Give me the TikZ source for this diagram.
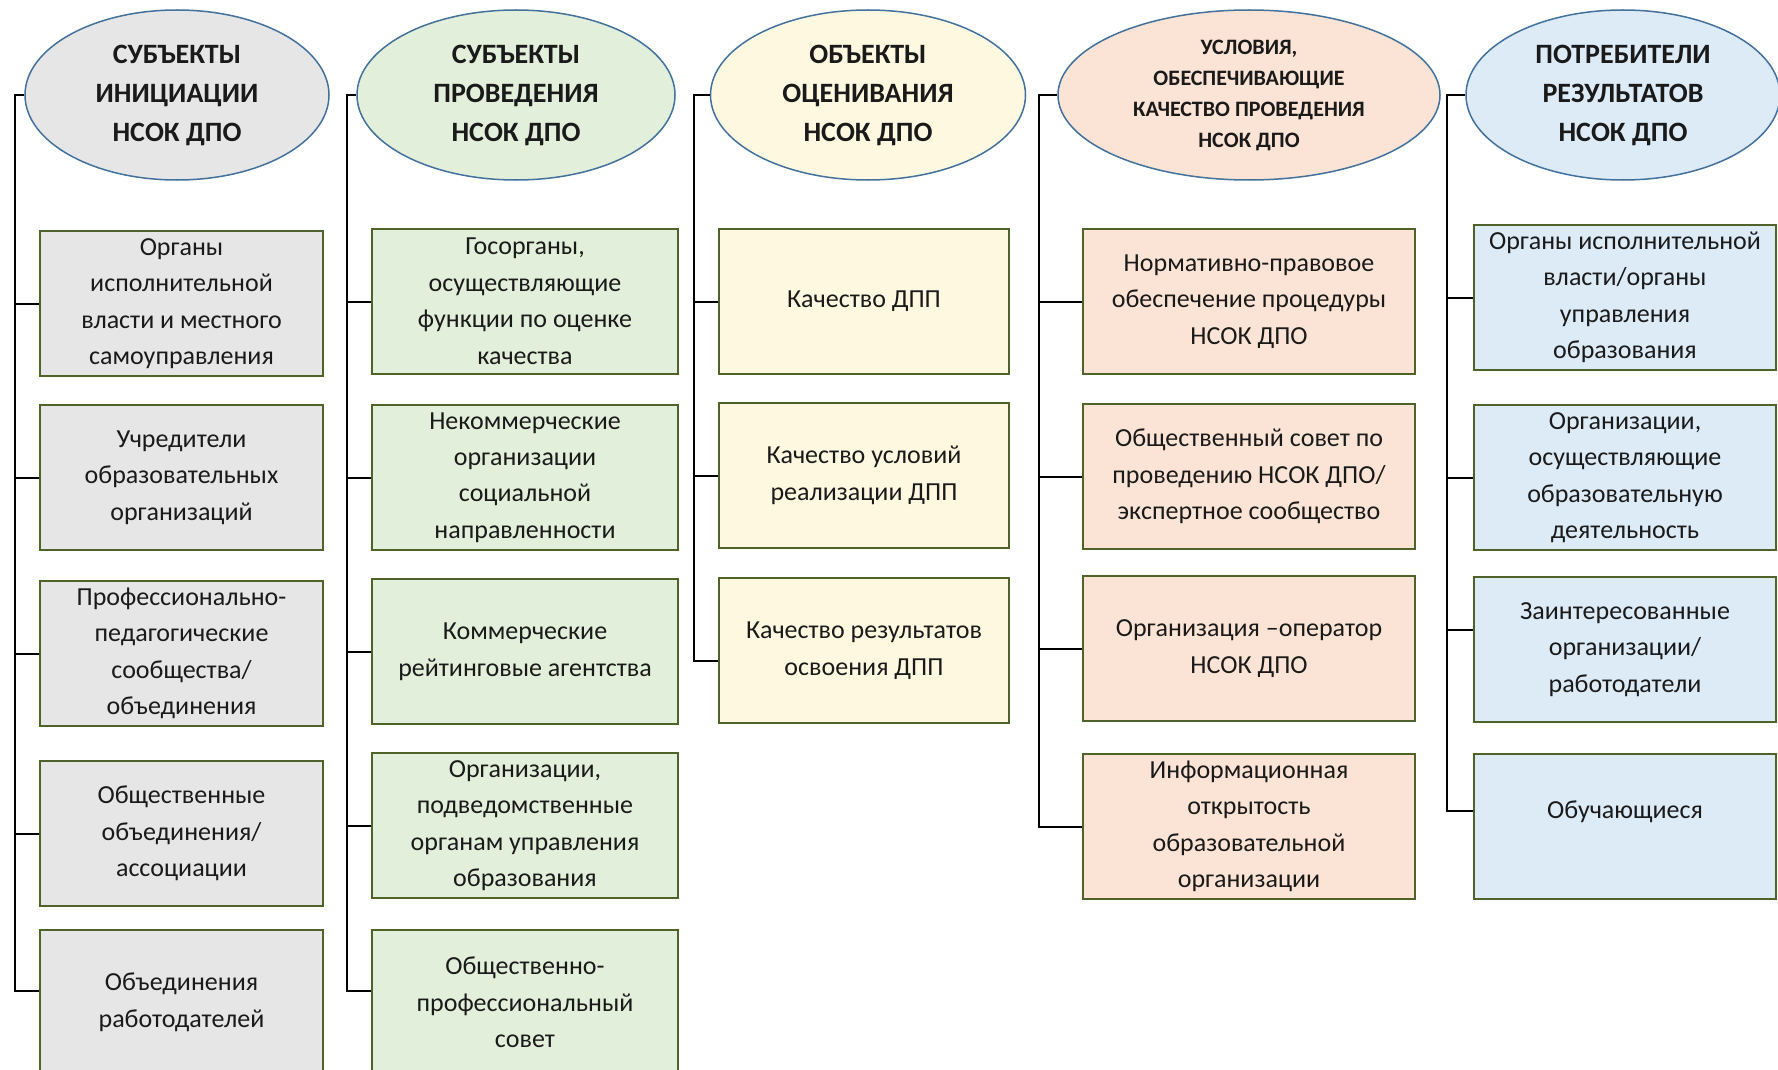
\documentclass[tikz,border=0pt]{standalone}
\usepackage{fontspec}
\setmainfont{Carlito}
\usetikzlibrary{positioning,shapes.geometric}

\definecolor{grayfill}{HTML}{E7E6E6}
\definecolor{greenfill}{HTML}{E2EFDA}
\definecolor{creamfill}{HTML}{FFF8E1}
\definecolor{peachfill}{HTML}{FBE4D5}
\definecolor{bluefill}{HTML}{DDEBF7}
\definecolor{boxedge}{HTML}{4F6228}
\definecolor{ovaledge}{HTML}{41719C}
\definecolor{txt}{HTML}{1A1A1A}

\begin{document}
\begin{tikzpicture}[
			x=1pt, y=-1pt,
			head/.style={
				ellipse,
				draw=ovaledge,
				line width=1.5pt,
				inner sep=0pt,
				minimum height=170pt,
				align=center,
				text=txt,
				font=\fontsize{28}{39}\selectfont\bfseries
			},
			item/.style={
				rectangle,
				draw=boxedge,
				line width=2pt,
				inner sep=0pt,
				minimum height=145pt,
				align=center,
				text=txt,
				font=\fontsize{26}{36.5}\selectfont
			},
			conn/.style={draw=black, line width=2pt}
			]
			
			\useasboundingbox (0,0) rectangle (1778,1070);
			
			%%%%%%%%%%%%%%%%%%%%%%%%%%%%%%%%%%%%%%%%%%%%%%%%%%%%%%%%%%%%
			% Heads
			%%%%%%%%%%%%%%%%%%%%%%%%%%%%%%%%%%%%%%%%%%%%%%%%%%%%%%%%%%%%
			
			\node (sinit) [head, fill=grayfill, minimum width=304pt] at (177,95)
			{СУБЪЕКТЫ\\ИНИЦИАЦИИ\\НСОК ДПО};
			
			\node (sprov) [head, fill=greenfill, minimum width=318pt] at (516,95)
			{СУБЪЕКТЫ\\ПРОВЕДЕНИЯ\\НСОК ДПО};
			
			\node (obj) [head, fill=creamfill, minimum width=315pt] at (868,95)
			{ОБЪЕКТЫ\\ОЦЕНИВАНИЯ\\НСОК ДПО};
			
			\node (usl) [head, fill=peachfill, minimum width=382pt,
			font=\fontsize{22}{31}\selectfont\bfseries] at (1249,95)
			{УСЛОВИЯ,\\ОБЕСПЕЧИВАЮЩИЕ\\КАЧЕСТВО ПРОВЕДЕНИЯ\\НСОК ДПО};
			
			\node (potr) [head, fill=bluefill, minimum width=314pt] at (1623,95)
			{ПОТРЕБИТЕЛИ\\РЕЗУЛЬТАТОВ\\НСОК ДПО};
			
			%%%%%%%%%%%%%%%%%%%%%%%%%%%%%%%%%%%%%%%%%%%%%%%%%%%%%%%%%%%%
			% Subjects of initiation
			%%%%%%%%%%%%%%%%%%%%%%%%%%%%%%%%%%%%%%%%%%%%%%%%%%%%%%%%%%%%
			
			\node (sinit1) [item, fill=grayfill, minimum width=283pt] at (181.5,303.5)
			{Органы\\исполнительной\\власти и местного\\самоуправления};
			
			\node (sinit2) [item, fill=grayfill, minimum width=283pt] at (181.5,477.5)
			{Учредители\\образовательных\\организаций};
			
			\node (sinit3) [item, fill=grayfill, minimum width=283pt] at (181.5,653.5)
			{Профессионально-\\педагогические\\сообщества/\\объединения};
			
			\node (sinit4) [item, fill=grayfill, minimum width=283pt] at (181.5,833.5)
			{Общественные\\объединения/\\ассоциации};
			
			\node (sinit5) [item, fill=grayfill, minimum width=283pt] at (181.5,1002.5)
			{Объединения\\работодателей};
			
			%%%%%%%%%%%%%%%%%%%%%%%%%%%%%%%%%%%%%%%%%%%%%%%%%%%%%%%%%%%%
			% Subjects of conduct
			%%%%%%%%%%%%%%%%%%%%%%%%%%%%%%%%%%%%%%%%%%%%%%%%%%%%%%%%%%%%
			
			\node (sprov1) [item, fill=greenfill, minimum width=306pt] at (525,301.5)
			{Госорганы,\\осуществляющие\\функции по оценке\\качества};
			
			\node (sprov2) [item, fill=greenfill, minimum width=306pt] at (525,477.5)
			{Некоммерческие\\организации\\социальной\\направленности};
			
			\node (sprov3) [item, fill=greenfill, minimum width=306pt] at (525,651.5)
			{Коммерческие\\рейтинговые агентства};
			
			\node (sprov4) [item, fill=greenfill, minimum width=306pt] at (525,825.5)
			{Организации,\\подведомственные\\органам управления\\образования};
			
			\node (sprov5) [item, fill=greenfill, minimum width=306pt] at (525,1002.5)
			{Общественно-\\профессиональный\\совет};
			
			%%%%%%%%%%%%%%%%%%%%%%%%%%%%%%%%%%%%%%%%%%%%%%%%%%%%%%%%%%%%
			% Objects
			%%%%%%%%%%%%%%%%%%%%%%%%%%%%%%%%%%%%%%%%%%%%%%%%%%%%%%%%%%%%
			
			\node (obj1) [item, fill=creamfill, minimum width=290pt] at (864,301.5)
			{Качество ДПП};
			
			\node (obj2) [item, fill=creamfill, minimum width=290pt] at (864,475.5)
			{Качество условий\\реализации ДПП};
			
			\node (obj3) [item, fill=creamfill, minimum width=290pt] at (864,650.5)
			{Качество результатов\\освоения ДПП};
			
			%%%%%%%%%%%%%%%%%%%%%%%%%%%%%%%%%%%%%%%%%%%%%%%%%%%%%%%%%%%%
			% Conditions
			%%%%%%%%%%%%%%%%%%%%%%%%%%%%%%%%%%%%%%%%%%%%%%%%%%%%%%%%%%%%
			
			\node (usl1) [item, fill=peachfill, minimum width=332pt] at (1249,301.5)
			{Нормативно-правовое\\обеспечение процедуры\\НСОК ДПО};
			
			\node (usl2) [item, fill=peachfill, minimum width=332pt] at (1249,476.5)
			{Общественный совет по\\проведению НСОК ДПО/\\экспертное сообщество};
			
			\node (usl3) [item, fill=peachfill, minimum width=332pt] at (1249,648.5)
			{Организация –оператор\\НСОК ДПО};
			
			\node (usl4) [item, fill=peachfill, minimum width=332pt] at (1249,826.5)
			{Информационная\\открытость\\образовательной\\организации};
			
			%%%%%%%%%%%%%%%%%%%%%%%%%%%%%%%%%%%%%%%%%%%%%%%%%%%%%%%%%%%%
			% Consumers
			%%%%%%%%%%%%%%%%%%%%%%%%%%%%%%%%%%%%%%%%%%%%%%%%%%%%%%%%%%%%
			
			\node (potr1) [item, fill=bluefill, minimum width=302pt] at (1625,297.5)
			{Органы исполнительной\\власти/органы\\управления\\образования};
			
			\node (potr2) [item, fill=bluefill, minimum width=302pt] at (1625,477.5)
			{Организации,\\осуществляющие\\образовательную\\деятельность};
			
			\node (potr3) [item, fill=bluefill, minimum width=302pt] at (1625,649.5)
			{Заинтересованные\\организации/\\работодатели};
			
			\node (potr4) [item, fill=bluefill, minimum width=302pt, text depth=34pt] at (1625,826.5)
			{Обучающиеся};
			
			%%%%%%%%%%%%%%%%%%%%%%%%%%%%%%%%%%%%%%%%%%%%%%%%%%%%%%%%%%%%
			% Connections
			%%%%%%%%%%%%%%%%%%%%%%%%%%%%%%%%%%%%%%%%%%%%%%%%%%%%%%%%%%%%
			
			\coordinate (sinitL) at (15,95);
			\coordinate (sprovL) at (347,95);
			\coordinate (objL) at (694,95);
			\coordinate (uslL) at (1039,95);
			\coordinate (potrL) at (1447,95);
			
			% Subjects of initiation
			
			\draw[conn] (sinit.west) -- (sinitL) |- ([yshift=12pt]sinit5.west);
			\draw[conn] (sinitL |- sinit1.west) -- (sinit1.west);
			\draw[conn] (sinitL |- sinit2.west) -- (sinit2.west);
			\draw[conn] (sinitL |- sinit3.west) -- (sinit3.west);
			\draw[conn] (sinitL |- sinit4.west) -- (sinit4.west);
			
			% Subjects of conduct
			
			\draw[conn] (sprov.west) -- (sprovL) |- ([yshift=12pt]sprov5.west);
			\draw[conn] (sprovL |- sprov1.west) -- (sprov1.west);
			\draw[conn] (sprovL |- sprov2.west) -- (sprov2.west);
			\draw[conn] (sprovL |- sprov3.west) -- (sprov3.west);
			\draw[conn] (sprovL |- sprov4.west) -- (sprov4.west);
			
			% Objects
			
			\draw[conn] (obj.west) -- (objL) |- ([yshift=-10pt]obj3.west);
			\draw[conn] (objL |- obj1.west) -- (obj1.west);
			\draw[conn] (objL |- obj2.west) -- (obj2.west);
			
			% Conditions
			
			\draw[conn] (usl.west) -- (uslL) |- (usl4.west);
			\draw[conn] (uslL |- usl1.west) -- (usl1.west);
			\draw[conn] (uslL |- usl2.west) -- (usl2.west);
			\draw[conn] (uslL |- usl3.west) -- (usl3.west);
			
			% Consumers
			
			\draw[conn] (potr.west) -- (potrL) |- ([yshift=16pt]potr4.west);
			\draw[conn] (potrL |- potr1.west) -- (potr1.west);
			\draw[conn] (potrL |- potr2.west) -- (potr2.west);
			\draw[conn] ([yshift=20pt]potrL |- potr3.west) -- ([yshift=20pt]potr3.west);
			
			%%%%%%%%%%%%%%%%%%%%%%%%%%%%%%%%%%%%%%%%%%%%%%%%%%%%%%%%%%%%
			
		\end{tikzpicture}
\end{document}
